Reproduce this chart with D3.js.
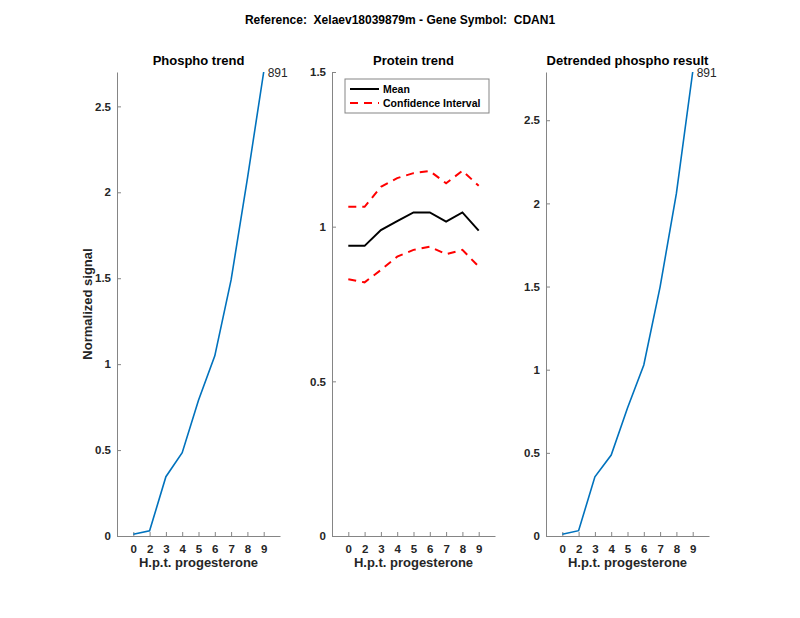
<html><head>
<script src="https://d3js.org/d3.v7.min.js"></script>
<style>
  body { margin: 0; background: #fff; }
  text { font-family: "Liberation Sans", Arial, sans-serif; }
  .axis .domain, .axis line { stroke: #858585; }
  .axis text { fill: #262626; font-weight: bold; font-size: 11.5px; }
</style>
</head>
<body>
<svg id="fig" width="800" height="618"></svg>
<script>
  // hours post progesterone
  const timeLabels = ["0", "2", "3", "4", "5", "6", "7", "8", "9"];
  const phospho = [0.01, 0.03, 0.345, 0.485, 0.79, 1.048, 1.49, 2.08, 2.70];
  const proteinMean = [0.938, 0.938, 0.989, 1.018, 1.046, 1.046, 1.016, 1.046, 0.987];
  const ciUpper = [1.064, 1.064, 1.129, 1.157, 1.173, 1.180, 1.140, 1.181, 1.132];
  const ciLower = [0.830, 0.820, 0.860, 0.903, 0.925, 0.935, 0.911, 0.925, 0.871];
  const detrended = [0.01, 0.032, 0.356, 0.487, 0.77, 1.028, 1.498, 2.06, 2.79];
  const phosphoTicks = [0, 0.5, 1, 1.5, 2, 2.5];
  const proteinTicks = [0, 0.5, 1, 1.5];
  const peptideLabel = "891";

  const svg = d3.select("svg#fig");
  const plotTop = 72, plotBottom = 536, pw = 163;
  const lefts = [117, 332, 546];

  svg.append("text")
     .attr("x", 400).attr("y", 24)
     .attr("text-anchor", "middle")
     .style("white-space", "pre")
     .attr("font-weight", "bold").attr("font-size", "12px")
     .attr("fill", "#000")
     .text("Reference:  Xelaev18039879m - Gene Symbol:  CDAN1");

  function makePanel(left, title, ymax, yticks) {
    const g = svg.append("g").attr("transform", "translate(" + left + "," + plotTop + ")");
    const h = plotBottom - plotTop;
    const x = d3.scaleLinear().domain([0, 10]).range([0, pw]);
    const y = d3.scaleLinear().domain([0, ymax]).range([h, 0]);

    g.append("g").attr("class", "axis")
      .attr("transform", "translate(0," + h + ")")
      .call(d3.axisBottom(x).tickValues(d3.range(1, 10))
              .tickFormat((d, i) => timeLabels[i])
              .tickSizeInner(-4).tickSizeOuter(0).tickPadding(9));
    g.append("g").attr("class", "axis")
      .call(d3.axisLeft(y).tickValues(yticks).tickFormat(d3.format("~g"))
              .tickSizeInner(-4).tickSizeOuter(0).tickPadding(6));

    g.append("text")
      .attr("x", pw / 2).attr("y", -7)
      .attr("text-anchor", "middle")
      .attr("font-weight", "bold").attr("font-size", "13px")
      .text(title);
    g.append("text")
      .attr("x", pw / 2).attr("y", 567 - plotTop)
      .attr("text-anchor", "middle")
      .attr("font-weight", "bold").attr("font-size", "13px")
      .attr("fill", "#262626")
      .text("H.p.t. progesterone");
    return {g: g, x: x, y: y};
  }

  function drawLine(p, values, color, width, dash) {
    const line = d3.line().x((d, i) => p.x(i + 1)).y(d => p.y(d));
    p.g.append("path")
      .datum(values)
      .attr("d", line)
      .attr("fill", "none")
      .attr("stroke", color)
      .attr("stroke-width", width)
      .attr("stroke-dasharray", dash || null);
  }

  function endLabel(p, values) {
    const n = values.length;
    p.g.append("text")
      .attr("x", p.x(n) + 4).attr("y", p.y(values[n - 1]))
      .attr("dy", "0.4em")
      .attr("font-size", "12px").attr("fill", "#262626")
      .text(peptideLabel);
  }

  // left: phospho trend
  const p1 = makePanel(lefts[0], "Phospho trend", d3.max(phospho), phosphoTicks);
  drawLine(p1, phospho, "#0072BD", 1.6);
  endLabel(p1, phospho);
  p1.g.append("text")
    .attr("transform", "translate(-25," + ((plotBottom - plotTop) / 2) + ") rotate(-90)")
    .attr("text-anchor", "middle")
    .attr("font-weight", "bold").attr("font-size", "13px")
    .attr("fill", "#262626")
    .text("Normalized signal");

  // center: protein trend
  const p2 = makePanel(lefts[1], "Protein trend", 1.5, proteinTicks);
  drawLine(p2, ciUpper, "#FF0000", 2, "8,6");
  drawLine(p2, ciLower, "#FF0000", 2, "8,6");
  drawLine(p2, proteinMean, "#000", 2);

  // legend
  const lg = p2.g.append("g").attr("transform", "translate(13,7)");
  lg.append("rect").attr("width", 144).attr("height", 34)
    .attr("fill", "#fff").attr("stroke", "#858585").attr("stroke-width", 1);
  const entries = [["Mean", "#000", null], ["Confidence Interval", "#FF0000", "8,6"]];
  entries.forEach((e, i) => {
    const yy = 10 + i * 14;
    lg.append("line").attr("x1", 5).attr("x2", 34).attr("y1", yy).attr("y2", yy)
      .attr("stroke", e[1]).attr("stroke-width", 2).attr("stroke-dasharray", e[2]);
    lg.append("text").attr("x", 38).attr("y", yy).attr("dy", "0.35em")
      .attr("font-weight", "bold").attr("font-size", "10.5px").attr("fill", "#000")
      .text(e[0]);
  });

  // right: detrended
  const p3 = makePanel(lefts[2], "Detrended phospho result", d3.max(detrended), phosphoTicks);
  drawLine(p3, detrended, "#0072BD", 1.6);
  endLabel(p3, detrended);
</script>
</body>
</html>
